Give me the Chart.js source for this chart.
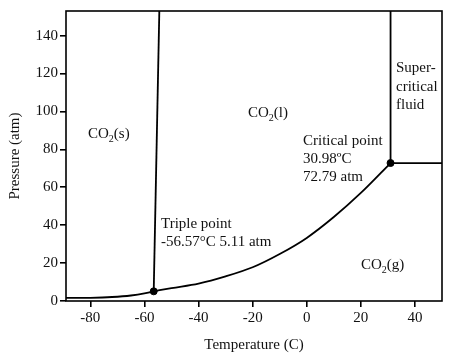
<!DOCTYPE html>
<html>
<head>
<meta charset="utf-8">
<script src="https://cdn.jsdelivr.net/npm/chart.js@4.4.1/dist/chart.umd.min.js"></script>
<style>
html,body{margin:0;padding:0;background:#fff;}
#wrap{width:450px;height:358px;}
</style>
</head>
<body>
<div id="wrap"><canvas id="c" width="450" height="358"></canvas></div>
<script>
// Axis ranges / ticks
const xMin = -89, xMax = 50;
const yMin = 0, yMax = 153;
const xTickStep = 20, yTickStep = 20;

// Sublimation curve (solid-gas)
const sublimT = [-89, -80, -72, -65, -60, -56.57];
const sublimP = [1.6, 1.7, 2.1, 2.9, 4.0, 5.11];
// Melting curve (solid-liquid)
const meltT = [-56.57, -54.5];
const meltP = [5.11, 153];
// Vaporization curve (liquid-gas)
const vapT = [-56.57, -50, -40, -30, -20, -10, 0, 10, 20, 30.98];
const vapP = [5.11, 6.8, 9.2, 13.0, 17.8, 24.8, 33.3, 44.3, 57.0, 72.79];
// Supercritical boundaries
const scVertT = [30.98, 30.98];
const scVertP = [72.79, 153];
const scHorzT = [30.98, 50];
const scHorzP = [72.79, 72.79];
// Special points
const pointT = [-56.57, 30.98];
const pointP = [5.11, 72.79];

const toXY = (xs, ys) => xs.map((x, i) => ({x: x, y: ys[i]}));

const FONT = "'Liberation Serif', 'Times New Roman', serif";

const labels = [
  {parts: [["CO",""],["2","sub"],["(s)",""]], x: 88, y: 134},
  {parts: [["CO",""],["2","sub"],["(l)",""]], x: 248, y: 113},
  {parts: [["CO",""],["2","sub"],["(g)",""]], x: 361, y: 265},
  {parts: [["Super-",""]], x: 396, y: 68},
  {parts: [["critical",""]], x: 396, y: 87},
  {parts: [["fluid",""]], x: 396, y: 105},
  {parts: [["Critical point",""]], x: 303, y: 141},
  {parts: [["30.98ºC",""]], x: 303, y: 159},
  {parts: [["72.79 atm",""]], x: 303, y: 177},
  {parts: [["Triple point",""]], x: 161, y: 224},
  {parts: [["-56.57°C 5.11 atm",""]], x: 161, y: 242}
];

const annot = {
  id: 'annot',
  afterDraw(chart) {
    const ctx = chart.ctx;
    const a = chart.chartArea;
    ctx.save();
    ctx.strokeStyle = '#000';
    ctx.lineWidth = 1.6;
    ctx.strokeRect(a.left, a.top, a.right - a.left, a.bottom - a.top);
    ctx.fillStyle = '#111';
    ctx.textBaseline = 'middle';
    ctx.textAlign = 'left';
    for (const l of labels) {
      let x = l.x;
      for (const [t, k] of l.parts) {
        if (k === 'sub') {
          ctx.font = '10px ' + FONT;
          ctx.fillText(t, x, l.y + 5);
        } else {
          ctx.font = '15px ' + FONT;
          ctx.fillText(t, x, l.y);
        }
        x += ctx.measureText(t).width;
      }
    }
    ctx.restore();
  }
};

const lineDs = (data) => ({
  data: data, showLine: true, borderColor: '#000', borderWidth: 1.8,
  pointRadius: 0, fill: false, tension: 0
});

new Chart(document.getElementById('c'), {
  type: 'scatter',
  data: {
    datasets: [
      Object.assign(lineDs(toXY(sublimT, sublimP)), {cubicInterpolationMode: 'monotone'}),
      lineDs(toXY(meltT, meltP)),
      Object.assign(lineDs(toXY(vapT, vapP)), {cubicInterpolationMode: 'monotone'}),
      lineDs(toXY(scVertT, scVertP)),
      lineDs(toXY(scHorzT, scHorzP)),
      {data: toXY(pointT, pointP), pointRadius: 3.5, backgroundColor: '#000', borderColor: '#000', showLine: false}
    ]
  },
  options: {
    responsive: false,
    animation: false,
    devicePixelRatio: 1,
    layout: {padding: {top: 10, right: 8, left: 0, bottom: 0}},
    plugins: {legend: {display: false}, tooltip: {enabled: false}},
    scales: {
      x: {
        type: 'linear', min: xMin, max: xMax,
        afterFit(s) { s.height = 57; },
        afterBuildTicks(s) {
          const t = [];
          for (let v = -80; v <= 40; v += xTickStep) t.push({value: v});
          s.ticks = t;
        },
        grid: {drawOnChartArea: false, drawTicks: true, tickLength: 6, color: '#000', lineWidth: 1.6},
        border: {display: false},
        ticks: {color: '#111', font: {family: FONT, size: 15}, padding: 2},
        title: {display: true, text: 'Temperature (C)', color: '#111', font: {family: FONT, size: 15}, padding: {top: 4}}
      },
      y: {
        type: 'linear', min: yMin, max: yMax,
        afterFit(s) { s.width = 66; },
        afterBuildTicks(s) {
          const t = [];
          for (let v = 0; v <= 140; v += yTickStep) t.push({value: v});
          s.ticks = t;
        },
        grid: {drawOnChartArea: false, drawTicks: true, tickLength: 6, color: '#000', lineWidth: 1.6},
        border: {display: false},
        ticks: {color: '#111', font: {family: FONT, size: 15}, padding: 2},
        title: {display: true, text: 'Pressure (atm)', color: '#111', font: {family: FONT, size: 15}, padding: {top: 6, bottom: 0}}
      }
    }
  },
  plugins: [annot]
});
</script>
</body>
</html>
